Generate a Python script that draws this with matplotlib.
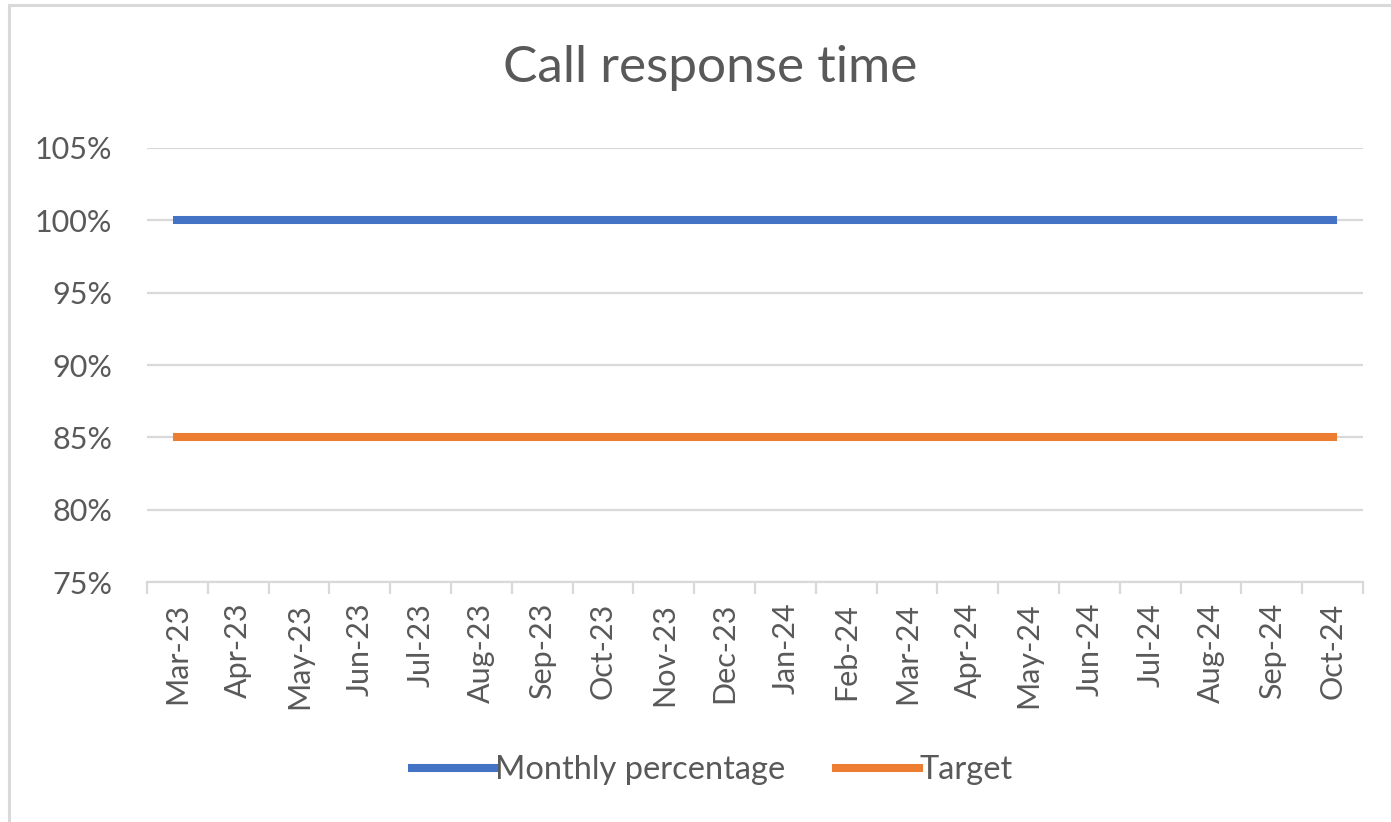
import matplotlib.pyplot as plt
from matplotlib.patches import Rectangle
from matplotlib.ticker import FuncFormatter, FixedLocator

months = ["Mar-23", "Apr-23", "May-23", "Jun-23", "Jul-23", "Aug-23", "Sep-23",
          "Oct-23", "Nov-23", "Dec-23", "Jan-24", "Feb-24", "Mar-24", "Apr-24",
          "May-24", "Jun-24", "Jul-24", "Aug-24", "Sep-24", "Oct-24"]
monthly_pct = [1.00] * 20
target = [0.85] * 20
y_ticks = [0.75, 0.80, 0.85, 0.90, 0.95, 1.00, 1.05]

plt.rcParams['font.family'] = ['Lato', 'DejaVu Sans']
text_col = '#595959'
grid_col = '#D9D9D9'

W, H = 1391, 822
fig = plt.figure(figsize=(W / 100, H / 100), dpi=100)
fig.patch.set_facecolor('white')

# chart border (right and bottom edges fall outside the picture)
fig.patches.append(Rectangle((9 / W, -20 / H), (W + 20) / W, (H + 15) / H,
                             transform=fig.transFigure, fill=False,
                             edgecolor=grid_col, linewidth=2.2))

ax = fig.add_axes([147 / W, 1 - 582 / H, (1363 - 147) / W, (582 - 148) / H])
x = list(range(len(months)))
ax.plot(x, monthly_pct, color='#4472C4', linewidth=5.8, solid_capstyle='projecting',
        label='Monthly percentage', zorder=3)
ax.plot(x, target, color='#ED7D31', linewidth=5.8, solid_capstyle='projecting',
        label='Target', zorder=3)

ax.set_xlim(-0.5, len(months) - 0.5)
ax.set_ylim(0.75, 1.05)
ax.set_yticks(y_ticks)
ax.yaxis.set_major_formatter(FuncFormatter(lambda v, _: f"{v * 100:.0f}%"))
ax.grid(axis='y', color=grid_col, linewidth=1.6)
ax.set_axisbelow(True)

ax.set_xticks(x)
ax.set_xticklabels(months, rotation=90, va='top', ha='center')
ax.xaxis.set_minor_locator(FixedLocator([i - 0.5 for i in range(len(months) + 1)]))
ax.tick_params(axis='x', which='major', length=0, pad=15, labelsize=22, labelcolor=text_col)
ax.tick_params(axis='x', which='minor', length=8.6, width=1.6, color=grid_col)
ax.tick_params(axis='y', length=0, pad=25, labelsize=22, labelcolor=text_col)

for s in ['top', 'right', 'left']:
    ax.spines[s].set_visible(False)
ax.spines['bottom'].set_color(grid_col)
ax.spines['bottom'].set_linewidth(1.6)

fig.text(710 / W, 1 - 68 / H, "Call response time", ha='center', va='center',
         fontsize=37, color=text_col)

leg = fig.legend(loc='center', bbox_to_anchor=(0.512, 1 - 770 / H), ncol=2,
                 frameon=False, fontsize=23.5, handlelength=2.55, handletextpad=0.0,
                 columnspacing=1.55, labelcolor=text_col)

fig.savefig('out.png', dpi=100)
